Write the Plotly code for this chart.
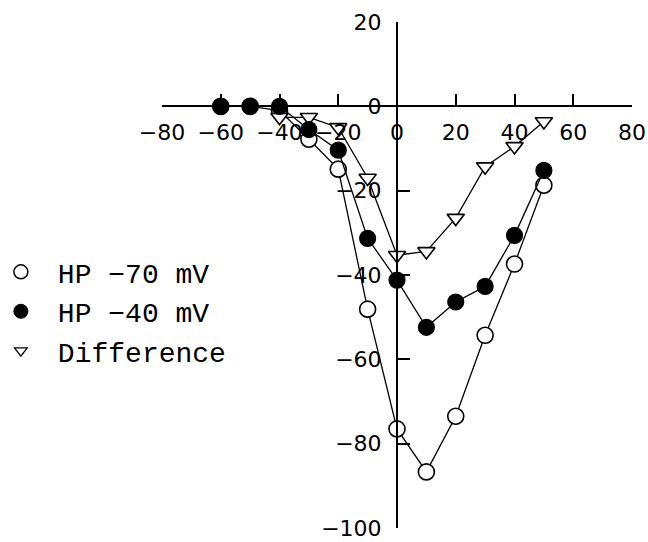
import plotly.graph_objects as go

# Membrane potential (mV) and peak current for each holding potential
voltage = [-60, -50, -40, -30, -20, -10, 0, 10, 20, 30, 40, 50]
hp70_current = [0, 0, -1, -7.8, -14.9, -48.1, -76.5, -86.7, -73.5, -54.3, -37.4, -18.7]
hp40_current = [0, 0, 0, -5.5, -10.4, -31.3, -41.2, -52.4, -46.4, -42.7, -30.6, -15.2]

diff_voltage = [-40, -30, -20, -10, 0, 10, 20, 30, 40, 50]
diff_current = [-2.6, -2.6, -5.0, -17.0, -35.3, -34.4, -26.5, -14.3, -9.5, -3.6]

x_ticks = [-80, -60, -40, -20, 0, 20, 40, 60, 80]
y_ticks = [20, 0, -20, -40, -60, -80, -100]

series_names = ["HP \u221270 mV", "HP \u221240 mV", "Difference"]

line_style = dict(color="black", width=1.3)

fig = go.Figure()

# Curves (legend entries are drawn separately as marker-only items)
fig.add_trace(go.Scatter(
    x=voltage, y=hp70_current, mode="lines+markers", line=line_style,
    marker=dict(symbol="circle", size=16, color="white",
                line=dict(color="black", width=1.6)),
    showlegend=False))
fig.add_trace(go.Scatter(
    x=diff_voltage, y=diff_current, mode="lines+markers", line=line_style,
    marker=dict(symbol="triangle-down", size=15, color="white",
                line=dict(color="black", width=1.6)),
    showlegend=False))
fig.add_trace(go.Scatter(
    x=voltage, y=hp40_current, mode="lines+markers", line=line_style,
    marker=dict(symbol="circle", size=16, color="black",
                line=dict(color="black", width=1.2)),
    showlegend=False))

# Legend items
legend_markers = [
    dict(symbol="circle", size=14, color="white", line=dict(color="black", width=1.5)),
    dict(symbol="circle", size=14, color="black", line=dict(color="black", width=1)),
    dict(symbol="triangle-down", size=11, color="white", line=dict(color="black", width=1.3)),
]
for name, mk in zip(series_names, legend_markers):
    fig.add_trace(go.Scatter(x=[None], y=[None], mode="markers", marker=mk,
                             name=name, showlegend=True))

tick_font = dict(family="DejaVu Sans", size=22, color="black")

fig.update_layout(
    width=648, height=542,
    margin=dict(l=162, r=16, t=22, b=14, autoexpand=False),
    paper_bgcolor="white", plot_bgcolor="white",
    showlegend=True,
    legend=dict(
        x=-0.379, y=0.555, xanchor="left", yanchor="top",
        font=dict(family="Liberation Mono", size=28, color="black"),
        itemwidth=64, bgcolor="rgba(0,0,0,0)", tracegroupgap=0,
    ),
    xaxis=dict(
        range=[-80, 80], anchor="free", position=100 / 120,
        tickvals=x_ticks, ticktext=[str(v).replace("-", "\u2212") for v in x_ticks],
        ticks="inside", ticklen=11, tickwidth=2, tickcolor="black",
        showline=True, linecolor="black", linewidth=2,
        showgrid=False, zeroline=False, tickfont=tick_font,
        ticklabelstandoff=6,
    ),
    yaxis=dict(
        range=[-100, 20], anchor="free", position=0.5,
        tickvals=y_ticks, ticktext=[str(v).replace("-", "\u2212") for v in y_ticks],
        ticks="inside", ticklen=12, tickwidth=2, tickcolor="black",
        showline=True, linecolor="black", linewidth=2,
        showgrid=False, zeroline=False, tickfont=tick_font,
        ticklabelstandoff=10,
    ),
)

fig.write_html("out.html")
